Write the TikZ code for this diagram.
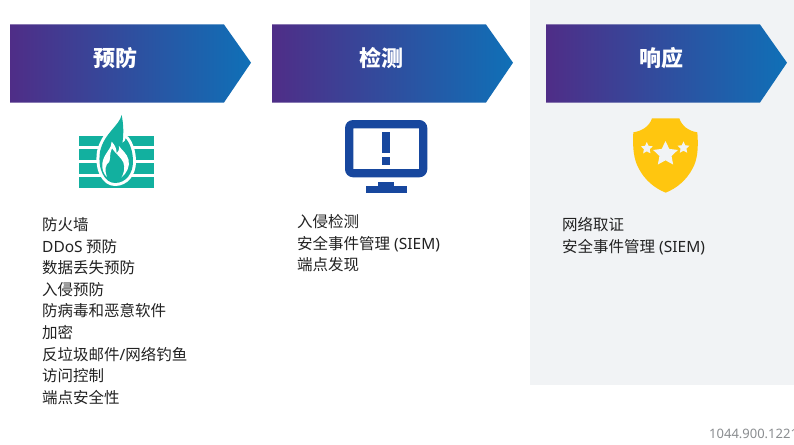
\documentclass[tikz,border=0pt]{standalone}
\usepackage{fontspec}
\usetikzlibrary{shapes.geometric}
\setmainfont{Noto Sans CJK SC}
\newfontfamily\latinface{Noto Sans}
\definecolor{panelgray}{HTML}{F1F3F5}
\definecolor{gradleft}{HTML}{4F2D87}
\definecolor{gradright}{HTML}{0F70B7}
\definecolor{tealicon}{HTML}{12B09F}
\definecolor{navyicon}{HTML}{17479E}
\definecolor{goldicon}{HTML}{FFC60F}
\definecolor{bodytext}{HTML}{222222}
\definecolor{refgray}{HTML}{8A8D90}
\tikzset{
  arrowband/.style={left color=gradleft,right color=gradright,draw=none},
  headtext/.style={text=white,font=\fontsize{22}{24}\selectfont\bfseries,inner sep=0pt},
  listtext/.style={text=bodytext,font=\fontsize{15.5}{21.55}\selectfont,align=left,anchor=north west,inner sep=0pt},
  staricon/.style={star,star points=5,star point ratio=2.05,fill=panelgray,draw=none,inner sep=0pt}
}
\begin{document}
\begin{tikzpicture}[x=1pt,y=-1pt]
\useasboundingbox (0,0) rectangle (794,444);
\clip (0,0) rectangle (794,444);
\fill[white] (0,0) rectangle (794,444);
\fill[panelgray] (530,0) rectangle (794,385);
% banners
\path[arrowband] (10,24.5) -- (224,24.5) -- (251,62.7) -- (224,102.5) -- (10,102.5) -- cycle;
\path[arrowband] (272,24.5) -- (486,24.5) -- (513,62.7) -- (486,102.5) -- (272,102.5) -- cycle;
\path[arrowband] (546,24.5) -- (760,24.5) -- (787,62.7) -- (760,102.5) -- (546,102.5) -- cycle;
\node[headtext] (h1) at (115,58.5) {预防};
\node[headtext] (h2) at (381.5,58.5) {检测};
\node[headtext] (h3) at (661.5,58.5) {响应};
% firewall icon
\begin{scope}[shift={(60,105)},x=0.3333pt,y=-0.3333pt]
  \fill[tealicon] (57,92) rectangle (282,123);
  \fill[tealicon] (57,133) rectangle (282,165);
  \fill[tealicon] (57,175) rectangle (282,206);
  \fill[tealicon] (57,217) rectangle (282,249);
  \def\flameoutline{(185,30) .. controls (178,62) and (132,85) .. (120,140)
    .. controls (112,195) and (135,234) .. (165,234)
    .. controls (198,234) and (219,205) .. (219,170)
    .. controls (219,140) and (210,115) .. (197,100)
    .. controls (197,106) and (194,110) .. (187,114)
    .. controls (192,85) and (190,55) .. (185,30) -- cycle}
  \path[draw=white,line width=6pt,line join=round] \flameoutline;
  \path[fill=tealicon] \flameoutline;
  \path[fill=white]
    (155,110) .. controls (157,130) and (131,145) .. (127,175)
    .. controls (125,192) and (131,208) .. (141,216)
    .. controls (133,195) and (136,178) .. (148,170)
    .. controls (152,160) and (148,145) .. (156,130)
    .. controls (166,145) and (184,158) .. (190,172)
    .. controls (197,190) and (190,208) .. (184,218)
    .. controls (200,205) and (210,185) .. (206,165)
    .. controls (201,145) and (185,135) .. (177,123)
    .. controls (178,135) and (175,140) .. (170,145)
    .. controls (170,132) and (165,120) .. (155,110) -- cycle;
\end{scope}
% monitor icon
\fill[navyicon,even odd rule,rounded corners=8pt] (345,120) rectangle (427.3,177.3) [sharp corners] (353.3,128.3) rectangle (419,169);
\fill[navyicon] (382.3,132.3) rectangle (390,152.7);
\fill[navyicon] (382.3,157) rectangle (390,165.3);
\fill[navyicon] (377.7,181.7) rectangle (394,186);
\fill[navyicon] (365.7,185.7) rectangle (406.7,193.3);
% shield icon
\begin{scope}[shift={(620,105)},x=0.3333pt,y=-0.3333pt]
  \fill[goldicon] (96,40) -- (178,40)
    .. controls (185,62) and (205,78) .. (232,82)
    .. controls (236,130) and (232,165) .. (218,190)
    .. controls (200,225) and (170,250) .. (137,263)
    .. controls (104,250) and (74,225) .. (56,190)
    .. controls (42,165) and (37,130) .. (40,82)
    .. controls (68,78) and (89,62) .. (96,40) -- cycle;
\end{scope}
\node[staricon,minimum size=12.5pt] (s1) at (646.8,148.3) {};
\node[staricon,minimum size=26pt] (s2) at (665.5,154) {};
\node[staricon,minimum size=12.5pt] (s3) at (683.5,147.7) {};
% lists
\node[listtext] (l1) at (42,217.5) {防火墙\\{\latinface DDoS} 预防\\数据丢失预防\\入侵预防\\防病毒和恶意软件\\加密\\反垃圾邮件{\latinface /}网络钓鱼\\访问控制\\端点安全性};
\node[listtext] (l2) at (297,214.5) {入侵检测\\安全事件管理{\latinface\ (SIEM)}\\端点发现};
\node[listtext] (l3) at (562,217.5) {网络取证\\安全事件管理{\latinface\ (SIEM)}};
\node[text=refgray,font=\fontsize{13}{14}\selectfont\latinface,anchor=west,inner sep=0pt] (ref) at (709,434) {1044.900.1221};
\end{tikzpicture}
\end{document}
